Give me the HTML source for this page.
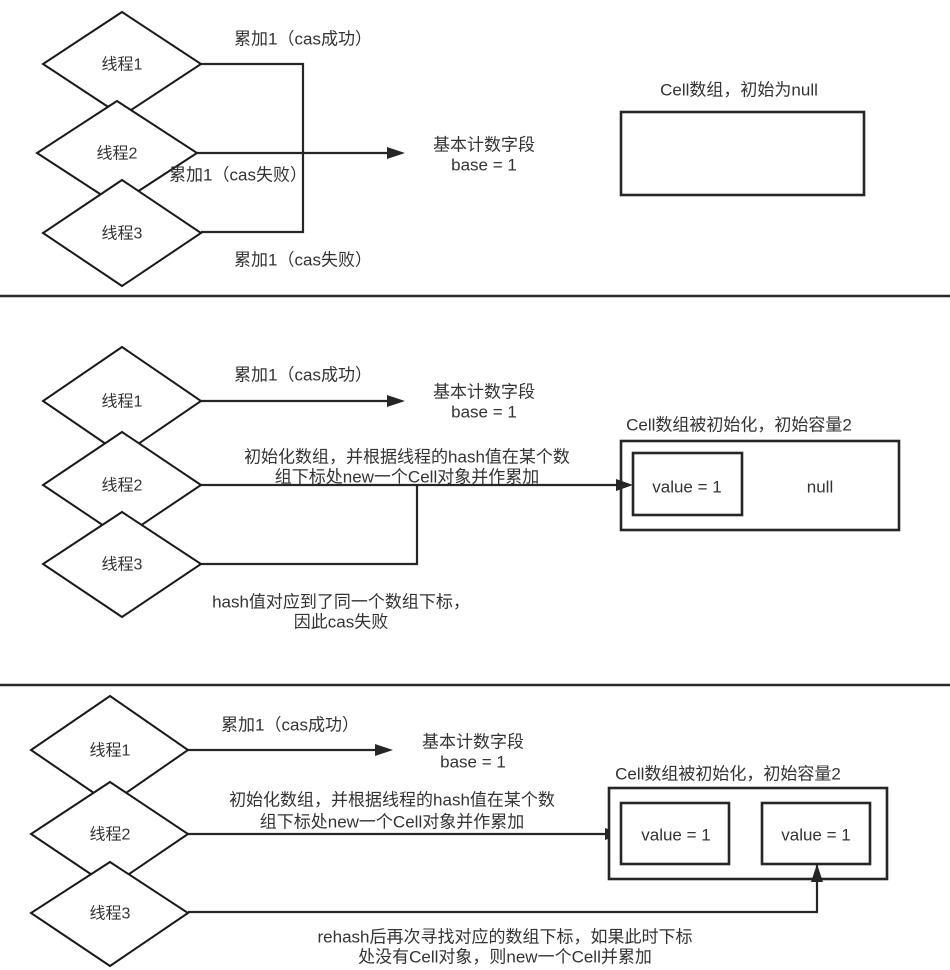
<!DOCTYPE html>
<html>
<head>
<meta charset="utf-8">
<style>
  html, body { margin: 0; padding: 0; background: #ffffff; }
  body { width: 950px; height: 970px; overflow: hidden; }
  svg { display: block; }
  text {
    font-family: "Liberation Sans", "Noto Sans CJK SC", sans-serif;
    font-size: 17px;
    fill: #333333;
  }
  text.d { font-size: 16px; }
</style>
</head>
<body>
<svg width="950" height="970" viewBox="0 0 950 970" xmlns="http://www.w3.org/2000/svg">
  <g stroke="#262626" stroke-width="2.2" fill="none" stroke-linejoin="miter">
    <!-- ===== TOP SECTION ===== -->
    <polyline points="201,64 303,64 303,232 201,232"/>
    <line x1="197" y1="153" x2="389" y2="153"/>
  </g>
  <polygon points="387,147 405,153 387,159" fill="#262626"/>

  <g stroke="#1a1a1a" stroke-width="2" fill="#ffffff">
    <polygon points="122,12 201,64 122,116 43,64"/>
    <polygon points="117,101 197,153 117,205 37,153"/>
    <polygon points="122,180 201,233 122,286 43,233"/>
  </g>
  <text class="d" x="122" y="65" text-anchor="middle" dominant-baseline="central">线程1</text>
  <text class="d" x="117" y="154" text-anchor="middle" dominant-baseline="central">线程2</text>
  <text class="d" x="122" y="234" text-anchor="middle" dominant-baseline="central">线程3</text>

  <text x="303" y="39" text-anchor="middle" dominant-baseline="central">累加1（cas成功）</text>
  <text x="238" y="175" text-anchor="middle" dominant-baseline="central">累加1（cas失败）</text>
  <text x="303" y="260" text-anchor="middle" dominant-baseline="central">累加1（cas失败）</text>

  <text x="484" y="145" text-anchor="middle" dominant-baseline="central">基本计数字段</text>
  <text x="484" y="165" text-anchor="middle" dominant-baseline="central">base = 1</text>

  <text x="739" y="90" text-anchor="middle" dominant-baseline="central">Cell数组，初始为null</text>
  <rect x="621" y="112" width="243" height="83" fill="none" stroke="#262626" stroke-width="2.6"/>

  <line x1="0" y1="296" x2="950" y2="296" stroke="#2a2a2a" stroke-width="2.5"/>

  <!-- ===== MIDDLE SECTION ===== -->
  <g stroke="#262626" stroke-width="2.2" fill="none">
    <line x1="201" y1="401" x2="389" y2="401"/>
    <line x1="201" y1="485" x2="617" y2="485"/>
    <polyline points="201,564 417,564 417,485"/>
  </g>
  <polygon points="387,395 405,401 387,407" fill="#262626"/>
  <polygon points="616,479 633,485 616,491" fill="#262626"/>

  <g stroke="#1a1a1a" stroke-width="2" fill="#ffffff">
    <polygon points="122,347 201,401 122,455 43,401"/>
    <polygon points="122,432 201,485 122,538 43,485"/>
    <polygon points="122,512 201,564 122,617 43,564"/>
  </g>
  <text class="d" x="122" y="402" text-anchor="middle" dominant-baseline="central">线程1</text>
  <text class="d" x="122" y="486" text-anchor="middle" dominant-baseline="central">线程2</text>
  <text class="d" x="122" y="565" text-anchor="middle" dominant-baseline="central">线程3</text>

  <text x="303" y="375" text-anchor="middle" dominant-baseline="central">累加1（cas成功）</text>
  <text x="484" y="392" text-anchor="middle" dominant-baseline="central">基本计数字段</text>
  <text x="484" y="412" text-anchor="middle" dominant-baseline="central">base = 1</text>

  <text x="407" y="457" text-anchor="middle" dominant-baseline="central">初始化数组，并根据线程的hash值在某个数</text>
  <text x="407" y="477" text-anchor="middle" dominant-baseline="central">组下标处new一个Cell对象并作累加</text>

  <text x="341" y="602" text-anchor="middle" dominant-baseline="central">hash值对应到了同一个数组下标，</text>
  <text x="341" y="622" text-anchor="middle" dominant-baseline="central">因此cas失败</text>

  <text x="739" y="425" text-anchor="middle" dominant-baseline="central">Cell数组被初始化，初始容量2</text>
  <rect x="621" y="441" width="278" height="89" fill="none" stroke="#262626" stroke-width="2.6"/>
  <rect x="633" y="453" width="109" height="62" fill="none" stroke="#262626" stroke-width="2.6"/>
  <text x="687" y="487" text-anchor="middle" dominant-baseline="central">value = 1</text>
  <text x="820" y="487" text-anchor="middle" dominant-baseline="central">null</text>

  <line x1="0" y1="685" x2="950" y2="685" stroke="#2a2a2a" stroke-width="2.5"/>

  <!-- ===== BOTTOM SECTION ===== -->
  <g stroke="#262626" stroke-width="2.2" fill="none">
    <line x1="188" y1="750" x2="377" y2="750"/>
    <line x1="188" y1="834" x2="606" y2="834"/>
    <polyline points="188,912 817,912 817,880"/>
  </g>
  <polygon points="375,744 393,750 375,756" fill="#262626"/>
  <polygon points="605,828 621,834 605,840" fill="#262626"/>

  <g stroke="#1a1a1a" stroke-width="2" fill="#ffffff">
    <polygon points="110,696 188,750 110,804 31,750"/>
    <polygon points="110,782 188,834 110,887 31,834"/>
    <polygon points="110,862 188,913 110,966 31,913"/>
  </g>
  <text class="d" x="110" y="751" text-anchor="middle" dominant-baseline="central">线程1</text>
  <text class="d" x="110" y="835" text-anchor="middle" dominant-baseline="central">线程2</text>
  <text class="d" x="110" y="914" text-anchor="middle" dominant-baseline="central">线程3</text>

  <text x="290" y="725" text-anchor="middle" dominant-baseline="central">累加1（cas成功）</text>
  <text x="473" y="742" text-anchor="middle" dominant-baseline="central">基本计数字段</text>
  <text x="473" y="762" text-anchor="middle" dominant-baseline="central">base = 1</text>

  <text x="392" y="800" text-anchor="middle" dominant-baseline="central">初始化数组，并根据线程的hash值在某个数</text>
  <text x="392" y="822" text-anchor="middle" dominant-baseline="central">组下标处new一个Cell对象并作累加</text>

  <text x="728" y="774" text-anchor="middle" dominant-baseline="central">Cell数组被初始化，初始容量2</text>
  <rect x="609" y="788" width="278" height="91" fill="#ffffff" stroke="#262626" stroke-width="2.6"/>
  <rect x="621" y="803" width="108" height="61" fill="none" stroke="#262626" stroke-width="2.6"/>
  <rect x="762" y="803" width="108" height="61" fill="none" stroke="#262626" stroke-width="2.6"/>
  <line x1="817" y1="864" x2="817" y2="880" stroke="#262626" stroke-width="2.2"/>
  <polygon points="811,882 817,864 823,882" fill="#262626"/>
  <text x="676" y="835" text-anchor="middle" dominant-baseline="central">value = 1</text>
  <text x="816" y="835" text-anchor="middle" dominant-baseline="central">value = 1</text>

  <text x="505" y="937" text-anchor="middle" dominant-baseline="central">rehash后再次寻找对应的数组下标，如果此时下标</text>
  <text x="505" y="957" text-anchor="middle" dominant-baseline="central">处没有Cell对象，则new一个Cell并累加</text>
</svg>
</body>
</html>
